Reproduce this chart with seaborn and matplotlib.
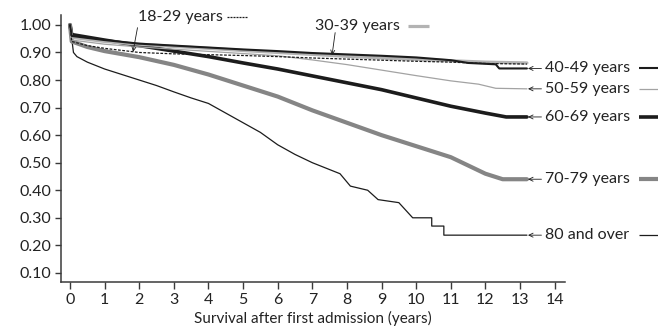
import matplotlib
matplotlib.use("Agg")
import matplotlib.pyplot as plt
import seaborn as sns
import pandas as pd
import numpy as np

sns.set_theme(style="ticks")
plt.rcParams['font.family'] = ['Lato', 'DejaVu Sans']

# ---- data ----
t_1829 = [0, 0.05, 0.5, 1, 2, 3, 4, 5, 6, 7, 8, 9, 10, 11, 12, 13.2]
s_1829 = [1.0, 0.94, 0.925, 0.915, 0.90, 0.895, 0.892, 0.889, 0.885, 0.88, 0.876, 0.872, 0.868, 0.865, 0.86, 0.858]

t_3039 = [0, 0.05, 1, 2, 3, 4, 5, 6, 7, 8, 9, 10, 11, 12, 13.2]
s_3039 = [1.0, 0.955, 0.94, 0.93, 0.922, 0.915, 0.907, 0.90, 0.893, 0.886, 0.88, 0.875, 0.87, 0.865, 0.862]

t_4049 = [0, 0.05, 1, 2, 3, 4, 5, 6, 7, 8, 9, 10, 11, 11.5, 12.3, 12.4, 13.2]
s_4049 = [1.0, 0.96, 0.945, 0.932, 0.925, 0.918, 0.911, 0.905, 0.898, 0.893, 0.888, 0.882, 0.872, 0.862, 0.857, 0.842, 0.842]

t_5059 = [0, 0.05, 1, 2, 3, 4, 5, 6, 7, 8, 9, 10, 11, 11.8, 12.3, 13.2]
s_5059 = [1.0, 0.945, 0.93, 0.92, 0.912, 0.904, 0.896, 0.888, 0.873, 0.856, 0.836, 0.816, 0.797, 0.785, 0.77, 0.768]

t_6069 = [0, 0.05, 1, 2, 3, 4, 5, 6, 7, 7.6, 8, 9, 10, 11, 12, 12.6, 13.2]
s_6069 = [1.0, 0.965, 0.945, 0.925, 0.905, 0.885, 0.862, 0.84, 0.815, 0.80, 0.79, 0.765, 0.735, 0.705, 0.68, 0.666, 0.666]

t_7079 = [0, 0.05, 0.5, 1, 2, 3, 4, 5, 6, 7, 8, 9, 10, 11, 11.5, 12, 12.5, 13.2]
s_7079 = [1.0, 0.94, 0.92, 0.905, 0.883, 0.855, 0.82, 0.78, 0.74, 0.69, 0.645, 0.60, 0.56, 0.52, 0.49, 0.46, 0.44, 0.44]

t_80 = [0, 0.1, 0.2, 0.5, 1, 1.5, 2, 2.5, 3, 3.5, 4, 4.5, 5, 5.5, 6, 6.5, 7, 7.5,
        7.8, 8.1, 8.6, 8.9, 9.5, 9.9, 10.45, 10.45, 10.8, 10.8, 13.2]
s_80 = [1.0, 0.90, 0.885, 0.865, 0.84, 0.82, 0.80, 0.78, 0.757, 0.735, 0.715, 0.68,
        0.645, 0.61, 0.565, 0.53, 0.50, 0.475, 0.46, 0.415, 0.40, 0.366, 0.355, 0.30,
        0.30, 0.27, 0.27, 0.237, 0.237]

labels = ["18-29 years", "30-39 years", "40-49 years", "50-59 years", "60-69 years",
          "70-79 years", "80 and over"]
x_ticks = list(range(0, 15))
y_ticks = [0.10, 0.20, 0.30, 0.40, 0.50, 0.60, 0.70, 0.80, 0.90, 1.00]
x_label = "Survival after first admission (years)"

# ---- styles ----
BLACK = "#1c1c1c"
styles = {
    "18-29 years": dict(color=BLACK, lw=0.9, ls=(0, (2.2, 1.2))),
    "30-39 years": dict(color="#b3b3b3", lw=2.3, ls="-"),
    "40-49 years": dict(color=BLACK, lw=1.5, ls="-"),
    "50-59 years": dict(color="#a3a3a3", lw=0.9, ls="-"),
    "60-69 years": dict(color=BLACK, lw=2.6, ls="-"),
    "70-79 years": dict(color="#858585", lw=3.0, ls="-"),
    "80 and over": dict(color=BLACK, lw=0.9, ls="-"),
}
series = {
    "18-29 years": (t_1829, s_1829),
    "30-39 years": (t_3039, s_3039),
    "40-49 years": (t_4049, s_4049),
    "50-59 years": (t_5059, s_5059),
    "60-69 years": (t_6069, s_6069),
    "70-79 years": (t_7079, s_7079),
    "80 and over": (t_80, s_80),
}

fig = plt.figure(figsize=(6.58, 3.35), dpi=100)
ax = fig.add_axes([61/658, 53/335, (565-61)/658, (282-15)/335])

draw_order = ["80 and over", "70-79 years", "60-69 years", "50-59 years",
              "30-39 years", "40-49 years", "18-29 years"]
for name in draw_order:
    t, s = series[name]
    df = pd.DataFrame({"t": t, "s": s})
    st = styles[name]
    sns.lineplot(data=df, x="t", y="s", ax=ax, color=st["color"], linewidth=st["lw"],
                 linestyle=st["ls"], estimator=None, sort=False)

ax.set_xlim(-0.26, 14.3)
ax.set_ylim(0.067, 1.036)
ax.set_xticks(x_ticks)
ax.set_xticklabels([str(v) for v in x_ticks])
ax.set_yticks(y_ticks)
ax.set_yticklabels([f"{v:.2f}" for v in y_ticks])
ax.set_xlabel(x_label, fontsize=11, color="#222222", labelpad=3)
ax.set_ylabel("")
for side in ["top", "right"]:
    ax.spines[side].set_visible(False)
for side in ["left", "bottom"]:
    ax.spines[side].set_color("#3a3a3a")
    ax.spines[side].set_linewidth(1.1)
ax.tick_params(axis="x", length=5, width=1.0, color="#3a3a3a", labelsize=11.5,
               labelcolor="#222222", pad=3)
ax.tick_params(axis="y", length=4, width=1.0, color="#3a3a3a", labelsize=11.5,
               labelcolor="#222222", pad=3)

# right-hand labels with arrows
right_labels = ["40-49 years", "50-59 years", "60-69 years", "70-79 years", "80 and over"]
for name in right_labels:
    t, s = series[name]
    v = s[-1]
    ax.annotate("", xy=(t[-1] + 0.03, v), xytext=(t[-1] + 0.42, v),
                arrowprops=dict(arrowstyle="->,head_length=0.25,head_width=0.12",
                                lw=0.6, color=BLACK, shrinkA=0, shrinkB=0),
                annotation_clip=False)
    ax.text(t[-1] + 0.52, v, name, va="center", ha="left", fontsize=11.5,
            color="#222222", clip_on=False)
    st = styles[name]
    ax.plot([16.45, 17.1], [v, v], color=st["color"], lw=st["lw"], ls="-",
            clip_on=False, solid_capstyle="butt")

# top labels with pointer lines
ax.text(1.97, 1.027, "18-29 years", va="center", ha="left", fontsize=11.5,
        color="#222222", clip_on=False)
ax.plot([4.55, 5.15], [1.027, 1.027], color=BLACK, lw=0.9, ls=(0, (1.6, 0.8)),
        clip_on=False)
ax.annotate("", xy=(1.82, 0.902), xytext=(1.95, 0.99),
            arrowprops=dict(arrowstyle="->,head_length=0.25,head_width=0.12",
                            lw=0.6, color=BLACK, shrinkA=0, shrinkB=0),
            annotation_clip=False)

ax.text(7.08, 0.997, "30-39 years", va="center", ha="left", fontsize=11.5,
        color="#222222", clip_on=False)
ax.plot([9.76, 10.38], [0.997, 0.997], color="#b3b3b3", lw=2.3, clip_on=False,
        solid_capstyle="butt")
ax.annotate("", xy=(7.57, 0.89), xytext=(7.66, 0.972),
            arrowprops=dict(arrowstyle="->,head_length=0.25,head_width=0.12",
                            lw=0.6, color=BLACK, shrinkA=0, shrinkB=0),
            annotation_clip=False)

fig.savefig("out.png", dpi=100)
